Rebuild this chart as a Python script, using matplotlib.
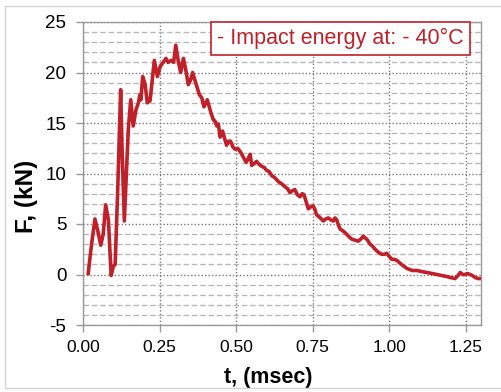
import matplotlib
matplotlib.use("Agg")
import matplotlib.pyplot as plt
from matplotlib.ticker import MultipleLocator, FormatStrFormatter
from matplotlib.patches import Rectangle

plt.rcParams['font.family'] = ['Liberation Sans', 'DejaVu Sans']
plt.rcParams['axes.unicode_minus'] = False

t_msec = [0.017, 0.028, 0.039, 0.047, 0.058, 0.066, 0.074, 0.083, 0.092, 0.099,
          0.105, 0.113, 0.123, 0.128, 0.135, 0.148, 0.156, 0.164, 0.173, 0.181,
          0.186, 0.189, 0.195, 0.203, 0.210, 0.219, 0.233, 0.243, 0.252, 0.262,
          0.271, 0.278, 0.288, 0.296, 0.303, 0.312, 0.319, 0.328, 0.336, 0.344,
          0.352, 0.358, 0.365, 0.372, 0.380, 0.388, 0.395, 0.406, 0.418, 0.426,
          0.431, 0.437, 0.442, 0.448, 0.456, 0.465, 0.469, 0.475, 0.482, 0.490,
          0.497, 0.505, 0.513, 0.524, 0.533, 0.540, 0.546, 0.551, 0.560, 0.567,
          0.575, 0.584, 0.592, 0.600, 0.608, 0.616, 0.626, 0.638, 0.648, 0.659,
          0.668, 0.676, 0.684, 0.692, 0.700, 0.709, 0.716, 0.722, 0.730, 0.736,
          0.744, 0.752, 0.758, 0.763, 0.772, 0.785, 0.793, 0.801, 0.810, 0.818,
          0.823, 0.829, 0.834, 0.840, 0.850, 0.861, 0.870, 0.878, 0.888, 0.899,
          0.907, 0.916, 0.922, 0.927, 0.938, 0.946, 0.954, 0.965, 0.976, 0.984,
          0.992, 1.000, 1.009, 1.017, 1.025, 1.040, 1.058, 1.075, 1.090, 1.105,
          1.123, 1.140, 1.156, 1.172, 1.188, 1.200, 1.215, 1.225, 1.232, 1.240,
          1.248, 1.256, 1.264, 1.272, 1.281, 1.290, 1.297]
force_kn = [0.1, 3.0, 5.5, 4.5, 2.9, 4.0, 6.9, 5.4, -0.1, 0.8,
            1.0, 8.0, 18.3, 12.0, 5.3, 14.4, 17.3, 14.7, 16.3, 17.0,
            17.8, 17.3, 19.6, 18.8, 17.0, 17.2, 21.2, 19.6, 20.6, 21.0,
            21.4, 21.0, 21.2, 21.0, 22.7, 21.0, 20.0, 21.4, 20.2, 18.8,
            19.3, 20.0, 19.3, 18.6, 17.8, 17.5, 16.6, 17.3, 16.0, 15.3,
            15.2, 14.7, 14.9, 13.6, 14.2, 13.2, 12.8, 13.2, 13.2, 12.6,
            12.4, 12.5, 12.2, 11.6, 11.1, 11.5, 11.9, 10.8, 11.0, 11.2,
            10.9, 10.7, 10.6, 10.3, 10.2, 9.8, 9.6, 9.2, 9.0, 8.7,
            8.5, 8.1, 8.3, 8.4, 7.9, 7.7, 8.0, 7.9, 7.1, 6.5,
            6.7, 6.8, 6.4, 5.9, 5.7, 5.3, 5.5, 5.6, 5.4, 5.3,
            5.6, 5.4, 4.9, 4.5, 4.3, 4.0, 3.7, 3.5, 3.4, 3.3,
            3.5, 3.8, 3.6, 3.5, 3.0, 2.8, 2.5, 2.2, 2.0, 2.0,
            2.1, 1.8, 1.5, 1.5, 1.4, 1.0, 0.6, 0.4, 0.4, 0.3,
            0.2, 0.1, 0.0, -0.1, -0.2, -0.3, -0.4, -0.1, 0.2, 0.0,
            0.0, 0.1, 0.0, -0.1, -0.3, -0.4, -0.4]
series_label = "- Impact energy at: - 40\u00b0C"
x_ticks = [0.00, 0.25, 0.50, 0.75, 1.00, 1.25]
y_ticks = [-5, 0, 5, 10, 15, 20, 25]

RED = '#c0202a'

fig = plt.figure(figsize=(5.01, 3.92), dpi=100)
fig.patches.append(Rectangle((5 / 501, 4 / 392), 1.0, 382 / 392, transform=fig.transFigure,
                             fill=False, edgecolor='#d4d4d4', linewidth=1.0))
ax = fig.add_axes([83 / 501, 1 - 325 / 392, 398 / 501, 303 / 392])

ax.set_xlim(0, 1.3)
ax.set_ylim(-5, 25)
ax.set_xticks(x_ticks)
ax.set_yticks(y_ticks)
ax.xaxis.set_major_formatter(FormatStrFormatter('%.2f'))
ax.yaxis.set_minor_locator(MultipleLocator(1))

ax.grid(which='major', axis='both', linestyle=(0, (1, 1.5)), color='#777777', linewidth=1.0)
ax.grid(which='minor', axis='y', linestyle=(0, (4, 2)), color='#b8b8b8', linewidth=1.0)
ax.set_axisbelow(True)

ax.plot(t_msec, force_kn, color=RED, linewidth=2.6, label=series_label, zorder=3)

for s in ax.spines.values():
    s.set_color('#999999')
    s.set_linewidth(1.0)

ax.tick_params(axis='both', which='major', color='#999999', length=5, width=1.0, pad=6)
ax.tick_params(axis='x', which='major', labelsize=12.5)
ax.tick_params(axis='y', which='major', labelsize=13.5, pad=7)
ax.tick_params(axis='y', which='minor', length=0)

ax.set_xlabel('t, (msec)', fontsize=15.5, fontweight='bold')
ax.set_ylabel('F, (kN)', fontsize=17.5, fontweight='bold')
ax.xaxis.set_label_coords((268 - 83) / 398, (325 - 377) / 303)
ax.xaxis.label.set_va('center')
ax.yaxis.set_label_coords((27 - 83) / 398, (325 - 196) / 303)
ax.yaxis.label.set_va('center')

leg = ax.legend(loc='upper right', bbox_to_anchor=(1 - 11 / 398, 1.0), borderaxespad=0,
                handlelength=0, handletextpad=0, fontsize=15.5, labelcolor=RED,
                fancybox=False, framealpha=1, borderpad=0.28)
leg.get_frame().set_edgecolor(RED)
leg.get_frame().set_linewidth(1.2)
for h in leg.legend_handles:
    h.set_visible(False)

fig.savefig('out.png', dpi=100)
